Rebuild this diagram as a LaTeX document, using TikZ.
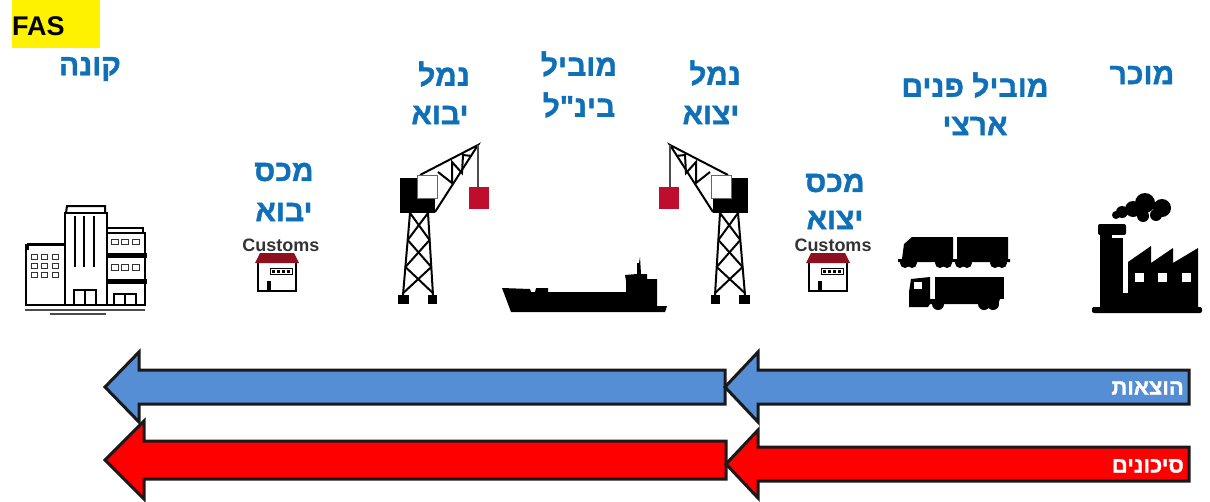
\documentclass[tikz,border=0pt]{standalone}
\usepackage{fontspec}
\setmainfont{Liberation Sans}
\newfontfamily\hebfont[Script=Hebrew, BoldFeatures={FakeBold=1.2}]{Liberation Sans}
\TeXXeTstate=1
\newcommand{\heb}[1]{{\hebfont\beginR #1\endR}}
\definecolor{titleblue}{HTML}{0F6FB7}
\definecolor{costblue}{HTML}{558ED5}
\definecolor{roofred}{HTML}{8E1020}
\definecolor{cargored}{HTML}{C00D2D}
\tikzset{
    title/.style={text=titleblue, inner sep=0pt, font=\fontsize{30}{36}\selectfont\bfseries},
    customs/.style={text=black!80, inner sep=0pt, font=\fontsize{18}{20}\selectfont\bfseries},
    bandlabel/.style={text=white, anchor=east, inner sep=0pt, font=\fontsize{22}{26}\selectfont\bfseries},
    band/.style={draw=black!90, line width=3pt, line join=miter, miter limit=10},
    crane/.pic={
        \fill [black] (400, 178) rectangle (435, 213);
        \draw [black, line width=2pt] (435, 212) -- (478, 145) -- (420, 175);
        \draw [black, line width=2pt] (438, 172) -- (452, 183) -- (452, 162) -- (462, 173) -- (463, 155) -- (472, 156);
        \fill [white] (417, 175) rectangle (437, 198);
        \draw [black!60, line width=0.6pt] (417, 175) rectangle (437, 198);
        \draw [black!70, line width=1.4pt] (478, 145) -- (478, 188);
        \fill [cargored] (469, 187) rectangle (489, 209);
        \draw [black, line width=2pt] (410, 213) -- (403, 295);
        \draw [black, line width=2pt] (428, 213) -- (433, 295);
        \foreach \la/\ra/\ya/\lb/\rb/\yb in
        {410/428/213/407.7/429.6/240, 407.7/429.6/240/405.4/431.3/267, 405.4/431.3/267/403.2/432.9/293}
        {
            \draw [black, line width=2pt] (\la, \ya) -- (\rb, \yb);
            \draw [black, line width=2pt] (\ra, \ya) -- (\lb, \yb);
        }
        \fill [black] (398, 295) rectangle (409, 304);
        \fill [black] (428, 295) rectangle (437, 304);
    },
    customhouse/.pic={
        \fill [white] (0, 10) rectangle (40, 38);
        \draw [black, line width=1.2pt] (1, 9) rectangle (39, 38);
        \fill [roofred] (3, 0) -- (37, 0) -- (42, 10) -- (-2, 10) -- cycle;
        \fill [black] (10, 28) rectangle (14, 38);
        \draw [black, line width=0.9pt] (13, 15) rectangle (35, 21);
        \foreach \i in {15, 20, 25, 30} {
            \fill [black] (\i, 16.5) rectangle (\i + 3, 19.5);
        }
    },
}
\begin{document}
\begin{tikzpicture}
    [
        x=1pt,
        y=-1pt,
    ]
    \useasboundingbox (0, 0) rectangle (1210, 501);

    \fill [yellow] (12, 0) rectangle (100, 48);
    \node [anchor=west, inner sep=0pt, font=\fontsize{27}{30}\selectfont\bfseries] (fas) at (12, 26) {FAS};

    \node [title] (buyer) at (90, 69) {\heb{קונה}};
    \node [title] (customsin) at (284, 172) {\heb{מכס}};
    \node [title] (customsintwo) at (284, 212) {\heb{יבוא}};
    \node [title] (portin) at (444, 74) {\heb{נמל}};
    \node [title] (portintwo) at (440, 115) {\heb{יבוא}};
    \node [title] (carrier) at (579, 64) {\heb{מוביל}};
    \node [title] (carriertwo) at (579, 105) {\heb{בינ"ל}};
    \node [title] (portout) at (715, 73) {\heb{נמל}};
    \node [title] (portouttwo) at (711, 115) {\heb{יצוא}};
    \node [title] (customsout) at (835, 183) {\heb{מכס}};
    \node [title] (customsouttwo) at (835, 220) {\heb{יצוא}};
    \node [title] (inland) at (975, 85) {\heb{מוביל פנים}};
    \node [title] (inlandtwo) at (975, 126) {\heb{ארצי}};
    \node [title] (seller) at (1142, 75) {\heb{מוכר}};

    \node [customs] (customsa) at (281, 245) {Customs};
    \node [customs] (customsb) at (833, 245) {Customs};
    \pic at (257, 253) {customhouse};
    \pic at (808, 253) {customhouse};

    % buyer
    \draw [black, line width=2pt] (26, 305) rectangle (65, 245);
    \draw [black, line width=2pt] (65, 305) rectangle (107, 213);
    \draw [black, line width=2pt] (107, 305) rectangle (145, 233);
    \draw [black, line width=2pt] (28, 250) -- (28, 244) -- (65, 244);
    \draw [black, line width=2pt] (66, 213) -- (67, 206) -- (105, 206) -- (105, 213);
    \draw [black, line width=2pt] (107, 228) -- (143, 228) -- (143, 233);
    \fill [black] (107, 253) rectangle (147, 258);
    \fill [black] (107, 279) rectangle (147, 284);
    \foreach \x in {75, 84, 94} {
        \draw [black, line width=1.8pt] (\x, 216) -- (\x, 267);
    }
    \foreach \x in {31, 41, 52} {
        \foreach \y in {254, 263, 272} {
            \draw [black!80, line width=1pt] (\x, \y) rectangle (\x + 6, \y + 5);
        }
    }
    \foreach \x in {111, 121, 132} {
        \draw [black!80, line width=1pt] (\x, 239) rectangle (\x + 7, 244);
        \draw [black!80, line width=1pt] (\x, 264) rectangle (\x + 7, 270);
    }
    \draw [black, line width=2pt] (74, 305) -- (74, 290) -- (96, 290) -- (96, 305);
    \draw [black, line width=2pt] (85, 290) -- (85, 305);
    \draw [black, line width=2pt] (114, 305) -- (114, 294) -- (136, 294) -- (136, 305);
    \draw [black, line width=2pt] (125, 294) -- (125, 305);
    \draw [black!70, line width=1.6pt] (25, 310) -- (145, 310);
    \draw [black!70, line width=1.6pt] (50, 314) -- (106, 314);

    % cranes
    \pic at (0, 0) {crane};
    \pic [xscale=-1] at (1148, 0) {crane};

    % ship
    \fill [black] (502, 288) -- (530, 289) -- (531, 292) -- (535, 292) -- (536, 288)
        -- (548, 288) -- (548, 292) -- (626, 292) -- (626, 281) -- (625, 275)
        -- (637, 274) -- (637, 263) -- (639, 263) -- (640, 257) -- (641, 274) -- (647, 274)
        -- (647, 279) -- (657, 279) -- (657, 306) -- (667, 306) -- (665, 312)
        -- (511, 312) -- cycle;

    % train
    \fill [black] (902, 259) -- (904, 244) -- (912, 237) -- (953, 237)
        -- (953, 259) -- (957, 259) -- (957, 237) -- (1008, 237) -- (1008, 259)
        -- (1010, 259) -- (1010, 262) -- (898, 262) -- (898, 259) -- cycle;
    \foreach \x in {905, 912, 940, 947, 960, 967, 995, 1002} {
        \fill [black] (\x, 263) circle [radius=5];
    }

    % truck
    \fill [black] (935, 277) rectangle (1004, 299);
    \fill [black] (909, 292) -- (911, 279) -- (930, 277) -- (930, 299) -- (990, 299)
        -- (1000, 299) -- (998, 304) -- (930, 304) -- (928, 307) -- (909, 307) -- cycle;
    \fill [white] (914, 282) rectangle (922, 289);
    \foreach \x in {938, 984, 993} {
        \fill [black] (\x, 304) circle [radius=6];
    }

    % factory
    \fill [black, rounded corners=2pt] (1092, 307) rectangle (1202, 313);
    \fill [black, rounded corners=2pt] (1098, 224) rectangle (1126, 235);
    \fill [black] (1100, 233) rectangle (1123, 308);
    \fill [white] (1112, 235) rectangle (1126, 238);
    \fill [black] (1128, 308) -- (1128, 262) -- (1151, 246) -- (1151, 263) -- (1173, 248)
        -- (1173, 263) -- (1198, 248) -- (1198, 308) -- cycle;
    \fill [black] (1123, 293) rectangle (1128, 308);
    \foreach \x in {1135, 1158, 1182} {
        \fill [white] (\x, 273) rectangle (\x + 9, 282);
    }
    \foreach \x/\y/\r in {1116/215/4, 1122/212/6, 1133/209/8, 1145/203/10, 1162/208/9, 1143/216/6, 1156/215/6} {
        \fill [black] (\x, \y) circle [radius=\r];
    }

    % bands
    \foreach \tipx/\neckx/\backx/\yc/\hh/\ss/\col in
    {105/139/725/387/35/17/costblue,
     725/758/1189/387/35/17/costblue,
     105/144/726/460/39/19/red,
     726/758/1189/464/34/17/red}
    {
        \draw [band, fill=\col] (\tipx, \yc) -- (\neckx, \yc - \hh) -- (\neckx, \yc - \ss) -- (\backx, \yc - \ss)
            -- (\backx, \yc + \ss) -- (\neckx, \yc + \ss) -- (\neckx, \yc + \hh) -- cycle;
    }
    \node [bandlabel] (costs) at (1184, 388) {\heb{הוצאות}};
    \node [bandlabel] (risks) at (1184, 466) {\heb{סיכונים}};
\end{tikzpicture}
\end{document}
